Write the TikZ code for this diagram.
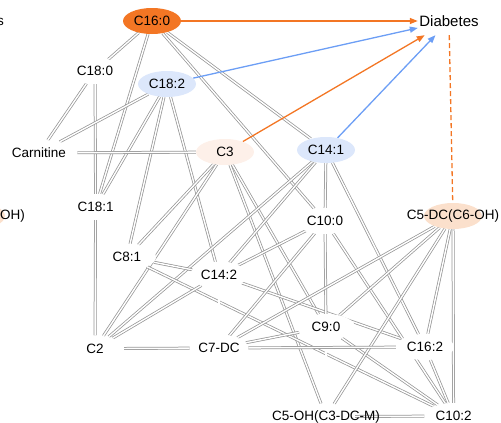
\documentclass[tikz,border=0pt]{standalone}
\usepackage{fontspec}
\setmainfont{Liberation Sans}
\usetikzlibrary{arrows.meta,shapes.geometric}

\definecolor{hotorange}{RGB}{243,118,36}
\definecolor{arrowblue}{RGB}{108,158,245}
\definecolor{paleblue}{RGB}{220,231,251}
\definecolor{palepeach}{RGB}{253,240,233}
\definecolor{peach}{RGB}{251,224,204}
\definecolor{edgegray}{RGB}{150,150,150}

\pgfdeclarelayer{edges}
\pgfsetlayers{edges,main}

\begin{document}
\begin{tikzpicture}[x=1pt,y=-1pt,
  met/.style={ellipse, minimum width=58pt, minimum height=26pt, inner sep=0pt,
              fill=white, font=\fontsize{13.5}{15}\selectfont},
  link/.style={draw=edgegray, double=white, double distance=1.4pt, line width=0.75pt},
  orangearrow/.style={draw=hotorange, line width=1.3pt,
              -{Triangle[length=8pt,width=6pt]}},
  bluearrow/.style={draw=arrowblue, line width=1.3pt,
              -{Triangle[length=8pt,width=6pt]}},
  orangedash/.style={draw=hotorange, line width=1.3pt, dash pattern=on 5pt off 3pt}
]
\useasboundingbox (0,0) rectangle (501,423);
\clip (0,0) rectangle (501,423);

% metabolite nodes (a few are nudged off-axis by a fraction of a point)
\node[met, fill=hotorange] (c160) at (152,21) {C16:0};
\node[rectangle, minimum width=62pt, minimum height=28pt, inner sep=0pt,
      font=\fontsize{15}{17}\selectfont] (diab) at (449,21) {Diabetes};
\node[met] (c180) at (95,71) {C18:0};
\node[met, fill=paleblue] (c182) at (167,84) {C18:2};
\node[met] (carn) at (39,153) {Carnitine};
\node[met, fill=palepeach] (c3) at (225,152) {C3};
\node[met, fill=paleblue] (c141) at (326,150) {C14:1};
\node[met] (c181) at (95.6,207) {C18:1};
\node[met] (c100) at (325,221) {C10:0};
\node[met, fill=peach] (c5dc) at (453,216) {\makebox[0pt]{C5-DC(C6-OH)}};
\node[met] (c81) at (127,257) {C8:1};
\node[met] (c142) at (219,275) {C14:2};
\node[met] (c2) at (95,348.6) {C2};
\node[met] (c7dc) at (219,348) {C7-DC};
\node[met] (c90) at (326,327) {C9:0};
\node[met] (c162) at (425,347) {C16:2};
\node[met] (c5oh) at (326,416.6) {\makebox[0pt]{C5-OH(C3-DC-M)}};
\node[met] (c102) at (453.6,416) {C10:2};

% nodes cut off at the left border
\fill[peach] (-24,216) ellipse (29 and 13);
\node[anchor=east, inner sep=0pt, font=\fontsize{13.5}{15}\selectfont] (ohtail) at (25,216) {OH)};
\node[anchor=east, inner sep=0pt, font=\fontsize{13.5}{15}\selectfont] (stail) at (4,22) {s};

\begin{pgfonlayer}{edges}
% correlation links
\draw[link] (c160) -- (c180);
\draw[link] (c160) -- (c181);
\draw[link] (c160) -- (c141);
\draw[link] (c160) -- (c100);
\draw[link] (c180) -- (carn);
\draw[link] (c180) -- (c181);
\draw[link] (c182) -- (carn);
\draw[link] (c182) -- (c181);
\draw[link] (c182) -- (c81);
\draw[link] (c182) -- (c142);
\draw[link] (carn) -- (c3);
\draw[link] (c3) -- (c81);
\draw[link] (c3) -- (c2);
\draw[link] (c3) -- (c90);
\draw[link] (c3) -- (c5oh);
\draw[link] (c141) -- (c100);
\draw[link] (c141) -- (c2);
\draw[link] (c141) -- (c142);
\draw[link] (c141) -- (c162);
\draw[link] (c181) -- (c2);
\draw[link] (c81) -- (c142);
\draw[link] (c81) -- (c102);
\draw[link] (c142) -- (c2);
\draw[link] (c142) -- (c7dc);
\draw[link] (c142) -- (c162);
\draw[link] (c100) -- (c142);
\draw[link] (c100) -- (c7dc);
\draw[link] (c100) -- (c90);
\draw[link] (c100) -- (c102);
\draw[link] (c90) -- (c5oh);
\draw[link] (c90) -- (c102);
\draw[link] (c5dc) -- (c7dc);
\draw[link] (c5dc) -- (c90);
\draw[link] (c5dc) -- (c5oh);
\draw[link] (c5dc) -- (c162);
\draw[link] (c5dc) -- (c102);
\draw[link] (c2) -- (c7dc);
\draw[link] (c7dc) -- (c90);
\draw[link] (c7dc) -- (c162);
\draw[link] (c5oh) -- (c102);
\draw[link] (c162) -- (c102);

% associations with diabetes
\draw[orangearrow] (c160) -- (diab);
\draw[bluearrow] (c182) -- (diab);
\draw[orangearrow] (c3) -- (diab);
\draw[bluearrow] (c141) -- (diab);
\draw[orangedash] (diab) -- (c5dc);
\end{pgfonlayer}
\end{tikzpicture}
\end{document}
